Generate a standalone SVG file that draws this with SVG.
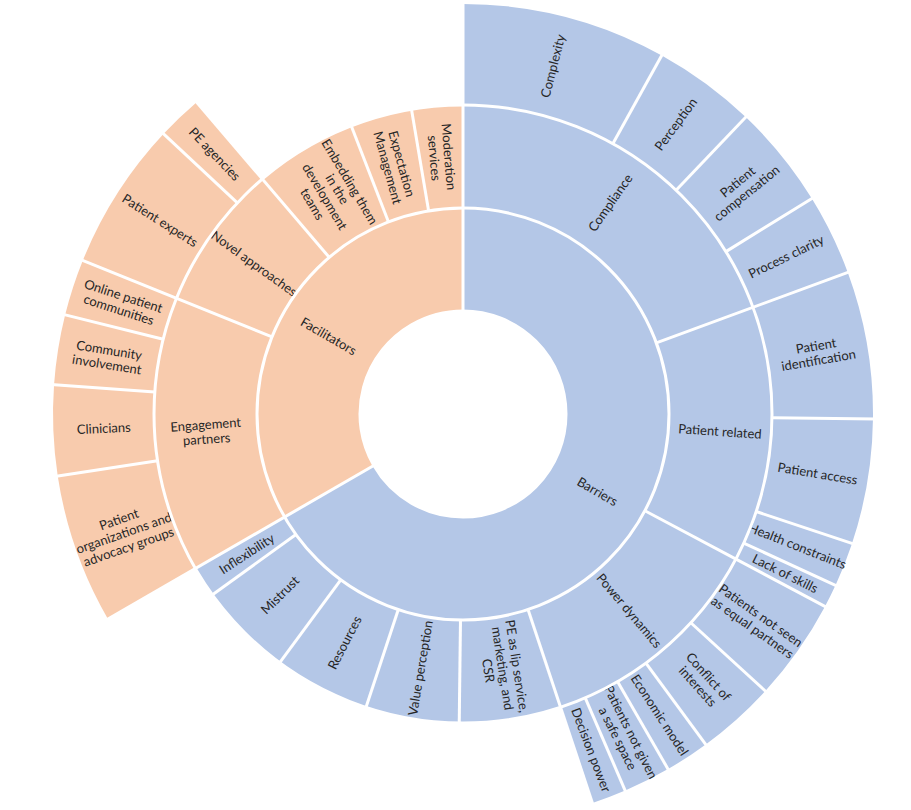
<svg xmlns="http://www.w3.org/2000/svg" width="911" height="810" viewBox="0 0 911 810">
<style>
.b{fill:none;stroke:#B4C7E7}
.f{fill:none;stroke:#F8CBAD}
.r1{stroke-width:101.5}
.r2{stroke-width:103}
.r3{stroke-width:101}
#borders line,#borders circle{stroke:#fff;stroke-width:3;fill:none}
text{font-family:Lato,"Liberation Sans",sans-serif;font-size:13px;fill:#262626;text-anchor:middle}
</style>
<rect width="911" height="810" fill="#fff"/>
<g transform="translate(463,414)">
<!-- Ring 1 -->
<g id="barriers"><circle class="b r1" r="155.25" stroke-dasharray="650.31 3000" transform="rotate(-90)"/><text transform="rotate(120) translate(0,-155.25) rotate(-90)"><tspan x="0" dy="4.5">Barriers</tspan></text></g>
<g id="facilitators"><circle class="f r1" r="155.25" stroke-dasharray="325.16 3000" transform="rotate(150)"/><text transform="rotate(300) translate(0,-155.25) rotate(90)"><tspan x="0" dy="4.5">Facilitators</tspan></text></g>
<!-- Ring 2 -->
<g id="compliance"><circle class="b r2" r="257.5" stroke-dasharray="313.7 3000" transform="rotate(-90)"/><text transform="rotate(34.9) translate(0,-257.5) rotate(-90)"><tspan x="0" dy="4.5">Compliance</tspan></text></g>
<g id="patient-related"><circle class="b r2" r="257.5" stroke-dasharray="216.62 3000" transform="rotate(-20.2)"/><text transform="rotate(93.9) translate(0,-257.5) rotate(-90)"><tspan x="0" dy="4.5">Patient related</tspan></text></g>
<g id="power-dynamics"><circle class="b r2" r="257.5" stroke-dasharray="195.95 3000" transform="rotate(28)"/><text transform="rotate(139.8) translate(0,-257.5) rotate(-90)"><tspan x="0" dy="4.5">Power dynamics</tspan></text></g>
<g id="pe-lip-service"><circle class="b r2" r="257.5" stroke-dasharray="85.84 3000" transform="rotate(71.6)"/><text transform="rotate(171.15) translate(0,-257.5) rotate(-90)"><tspan x="0" dy="-10">PE as lip service,</tspan><tspan x="0" dy="14.5">marketing, and</tspan><tspan x="0" dy="14.5">CSR</tspan></text></g>
<g id="value-perception"><circle class="b r2" r="257.5" stroke-dasharray="79.1 3000" transform="rotate(90.7)"/><text transform="rotate(189.5) translate(0,-257.5) rotate(90)"><tspan x="0" dy="4.5">Value perception</tspan></text></g>
<g id="resources"><circle class="b r2" r="257.5" stroke-dasharray="81.35 3000" transform="rotate(108.3)"/><text transform="rotate(207.35) translate(0,-257.5) rotate(90)"><tspan x="0" dy="4.5">Resources</tspan></text></g>
<g id="mistrust"><circle class="b r2" r="257.5" stroke-dasharray="80 3000" transform="rotate(126.4)"/><text transform="rotate(225.3) translate(0,-257.5) rotate(90)"><tspan x="0" dy="4.5">Mistrust</tspan></text></g>
<g id="inflexibility"><circle class="b r2" r="257.5" stroke-dasharray="26.07 3000" transform="rotate(144.2)"/><text transform="rotate(237.1) translate(0,-257.5) rotate(90)"><tspan x="0" dy="4.5">Inflexibility</tspan></text></g>
<g id="engagement-partners"><circle class="f r2" r="257.5" stroke-dasharray="233.7 3000" transform="rotate(150)"/><text transform="rotate(266) translate(0,-257.5) rotate(90)"><tspan x="0" dy="-2.75">Engagement</tspan><tspan x="0" dy="14.5">partners</tspan></text></g>
<g id="novel-approaches"><circle class="f r2" r="257.5" stroke-dasharray="123.59 3000" transform="rotate(202)"/><text transform="rotate(305.75) translate(0,-257.5) rotate(90)"><tspan x="0" dy="4.5">Novel approaches</tspan></text></g>
<g id="embedding"><circle class="f r2" r="257.5" stroke-dasharray="86.74 3000" transform="rotate(229.5)"/><text transform="rotate(329.15) translate(0,-257.5) rotate(90)"><tspan x="0" dy="-17.25">Embedding them</tspan><tspan x="0" dy="14.5">in the</tspan><tspan x="0" dy="14.5">development</tspan><tspan x="0" dy="14.5">teams</tspan></text></g>
<g id="expectation-management"><circle class="f r2" r="257.5" stroke-dasharray="52.13 3000" transform="rotate(248.8)"/><text transform="rotate(344.6) translate(0,-257.5) rotate(90)"><tspan x="0" dy="-2.75">Expectation</tspan><tspan x="0" dy="14.5">Management</tspan></text></g>
<g id="moderation-services"><circle class="f r2" r="257.5" stroke-dasharray="43.14 3000" transform="rotate(260.4)"/><text transform="rotate(355.2) translate(0,-257.5) rotate(90)"><tspan x="0" dy="-2.75">Moderation</tspan><tspan x="0" dy="14.5">services</tspan></text></g>
<!-- Ring 3 -->
<g id="complexity"><circle class="b r3" r="359.5" stroke-dasharray="181.96 3000" transform="rotate(-90)"/><text transform="rotate(14.5) translate(0,-359.5) rotate(-90)"><tspan x="0" dy="4.5">Complexity</tspan></text></g>
<g id="perception"><circle class="b r3" r="359.5" stroke-dasharray="91.61 3000" transform="rotate(-61)"/><text transform="rotate(36.3) translate(0,-359.5) rotate(-90)"><tspan x="0" dy="4.5">Perception</tspan></text></g>
<g id="patient-compensation"><circle class="b r3" r="359.5" stroke-dasharray="92.23 3000" transform="rotate(-46.4)"/><text transform="rotate(50.95) translate(0,-359.5) rotate(-90)"><tspan x="0" dy="-2.75">Patient</tspan><tspan x="0" dy="14.5">compensation</tspan></text></g>
<g id="process-clarity"><circle class="b r3" r="359.5" stroke-dasharray="72.16 3000" transform="rotate(-31.7)"/><text transform="rotate(64.05) translate(0,-359.5) rotate(-90)"><tspan x="0" dy="4.5">Process clarity</tspan></text></g>
<g id="patient-identification"><circle class="b r3" r="359.5" stroke-dasharray="131.14 3000" transform="rotate(-20.2)"/><text transform="rotate(80.25) translate(0,-359.5) rotate(-90)"><tspan x="0" dy="-2.75">Patient</tspan><tspan x="0" dy="14.5">identification</tspan></text></g>
<g id="patient-access"><circle class="b r3" r="359.5" stroke-dasharray="111.06 3000" transform="rotate(0.7)"/><text transform="rotate(99.55) translate(0,-359.5) rotate(-90)"><tspan x="0" dy="4.5">Patient access</tspan></text></g>
<g id="health-constraints"><circle class="b r3" r="359.5" stroke-dasharray="39.53 3000" transform="rotate(18.4)"/><text transform="rotate(111.55) translate(0,-359.5) rotate(-90)"><tspan x="0" dy="4.5">Health constraints</tspan></text></g>
<g id="lack-of-skills"><circle class="b r3" r="359.5" stroke-dasharray="20.71 3000" transform="rotate(24.7)"/><text transform="rotate(116.35) translate(0,-359.5) rotate(-90)"><tspan x="0" dy="4.5">Lack of skills</tspan></text></g>
<g id="not-equal-partners"><circle class="b r3" r="359.5" stroke-dasharray="90.98 3000" transform="rotate(28)"/><text transform="rotate(125.25) translate(0,-359.5) rotate(-90)"><tspan x="0" dy="-2.75">Patients not seen</tspan><tspan x="0" dy="14.5">as equal partners</tspan></text></g>
<g id="conflict-of-interests"><circle class="b r3" r="359.5" stroke-dasharray="70.27 3000" transform="rotate(42.5)"/><text transform="rotate(138.1) translate(0,-359.5) rotate(-90)"><tspan x="0" dy="-2.75">Conflict of</tspan><tspan x="0" dy="14.5">interests</tspan></text></g>
<g id="economic-model"><circle class="b r3" r="359.5" stroke-dasharray="39.53 3000" transform="rotate(53.7)"/><text transform="rotate(146.85) translate(0,-359.5) rotate(-90)"><tspan x="0" dy="4.5">Economic model</tspan></text></g>
<g id="safe-space"><circle class="b r3" r="359.5" stroke-dasharray="42.04 3000" transform="rotate(60)"/><text transform="rotate(153.35) translate(0,-359.5) rotate(-90)"><tspan x="0" dy="-2.75">Patients not given</tspan><tspan x="0" dy="14.5">a safe space</tspan></text></g>
<g id="decision-power"><circle class="b r3" r="359.5" stroke-dasharray="30.74 3000" transform="rotate(66.7)"/><text transform="rotate(159.15) translate(0,-359.5) rotate(-90)"><tspan x="0" dy="4.5">Decision power</tspan></text></g>
<g id="patient-organizations"><circle class="f r3" r="359.5" stroke-dasharray="133.65 3000" transform="rotate(150)"/><text transform="rotate(250.65) translate(0,-359.5) rotate(90)"><tspan x="0" dy="-10">Patient</tspan><tspan x="0" dy="14.5">organizations and</tspan><tspan x="0" dy="14.5">advocacy groups</tspan></text></g>
<g id="clinicians"><circle class="f r3" r="359.5" stroke-dasharray="80.31 3000" transform="rotate(171.3)"/><text transform="rotate(267.7) translate(0,-359.5) rotate(90)"><tspan x="0" dy="4.5">Clinicians</tspan></text></g>
<g id="community-involvement"><circle class="f r3" r="359.5" stroke-dasharray="62.12 3000" transform="rotate(184.1)"/><text transform="rotate(279.05) translate(0,-359.5) rotate(90)"><tspan x="0" dy="-2.75">Community</tspan><tspan x="0" dy="14.5">involvement</tspan></text></g>
<g id="online-communities"><circle class="f r3" r="359.5" stroke-dasharray="50.2 3000" transform="rotate(194)"/><text transform="rotate(288) translate(0,-359.5) rotate(90)"><tspan x="0" dy="-2.75">Online patient</tspan><tspan x="0" dy="14.5">communities</tspan></text></g>
<g id="patient-experts"><circle class="f r3" r="359.5" stroke-dasharray="132.39 3000" transform="rotate(202)"/><text transform="rotate(302.55) translate(0,-359.5) rotate(90)"><tspan x="0" dy="4.5">Patient experts</tspan></text></g>
<g id="pe-agencies"><circle class="f r3" r="359.5" stroke-dasharray="40.16 3000" transform="rotate(223.1)"/><text transform="rotate(316.3) translate(0,-359.5) rotate(90)"><tspan x="0" dy="4.5">PE agencies</tspan></text></g>
<!-- Segment borders -->
<g id="borders">
<circle r="206"/><circle r="309"/>
<line y1="-103" y2="-413" transform="rotate(0)"/>
<line y1="-103" y2="-413" transform="rotate(240)"/>
<line y1="-206" y2="-413" transform="rotate(69.8)"/>
<line y1="-206" y2="-413" transform="rotate(118)"/>
<line y1="-206" y2="-413" transform="rotate(161.6)"/>
<line y1="-206" y2="-311" transform="rotate(180.7)"/>
<line y1="-206" y2="-311" transform="rotate(198.3)"/>
<line y1="-206" y2="-311" transform="rotate(216.4)"/>
<line y1="-206" y2="-311" transform="rotate(234.2)"/>
<line y1="-206" y2="-413" transform="rotate(292)"/>
<line y1="-206" y2="-413" transform="rotate(319.5)"/>
<line y1="-206" y2="-311" transform="rotate(338.8)"/>
<line y1="-206" y2="-311" transform="rotate(350.4)"/>
<line y1="-309" y2="-413" transform="rotate(29)"/>
<line y1="-309" y2="-413" transform="rotate(43.6)"/>
<line y1="-309" y2="-413" transform="rotate(58.3)"/>
<line y1="-309" y2="-413" transform="rotate(90.7)"/>
<line y1="-309" y2="-413" transform="rotate(108.4)"/>
<line y1="-309" y2="-413" transform="rotate(114.7)"/>
<line y1="-309" y2="-413" transform="rotate(132.5)"/>
<line y1="-309" y2="-413" transform="rotate(143.7)"/>
<line y1="-309" y2="-413" transform="rotate(150)"/>
<line y1="-309" y2="-413" transform="rotate(156.7)"/>
<line y1="-309" y2="-413" transform="rotate(261.3)"/>
<line y1="-309" y2="-413" transform="rotate(274.1)"/>
<line y1="-309" y2="-413" transform="rotate(284)"/>
<line y1="-309" y2="-413" transform="rotate(313.1)"/>
</g>
</g>
</svg>
